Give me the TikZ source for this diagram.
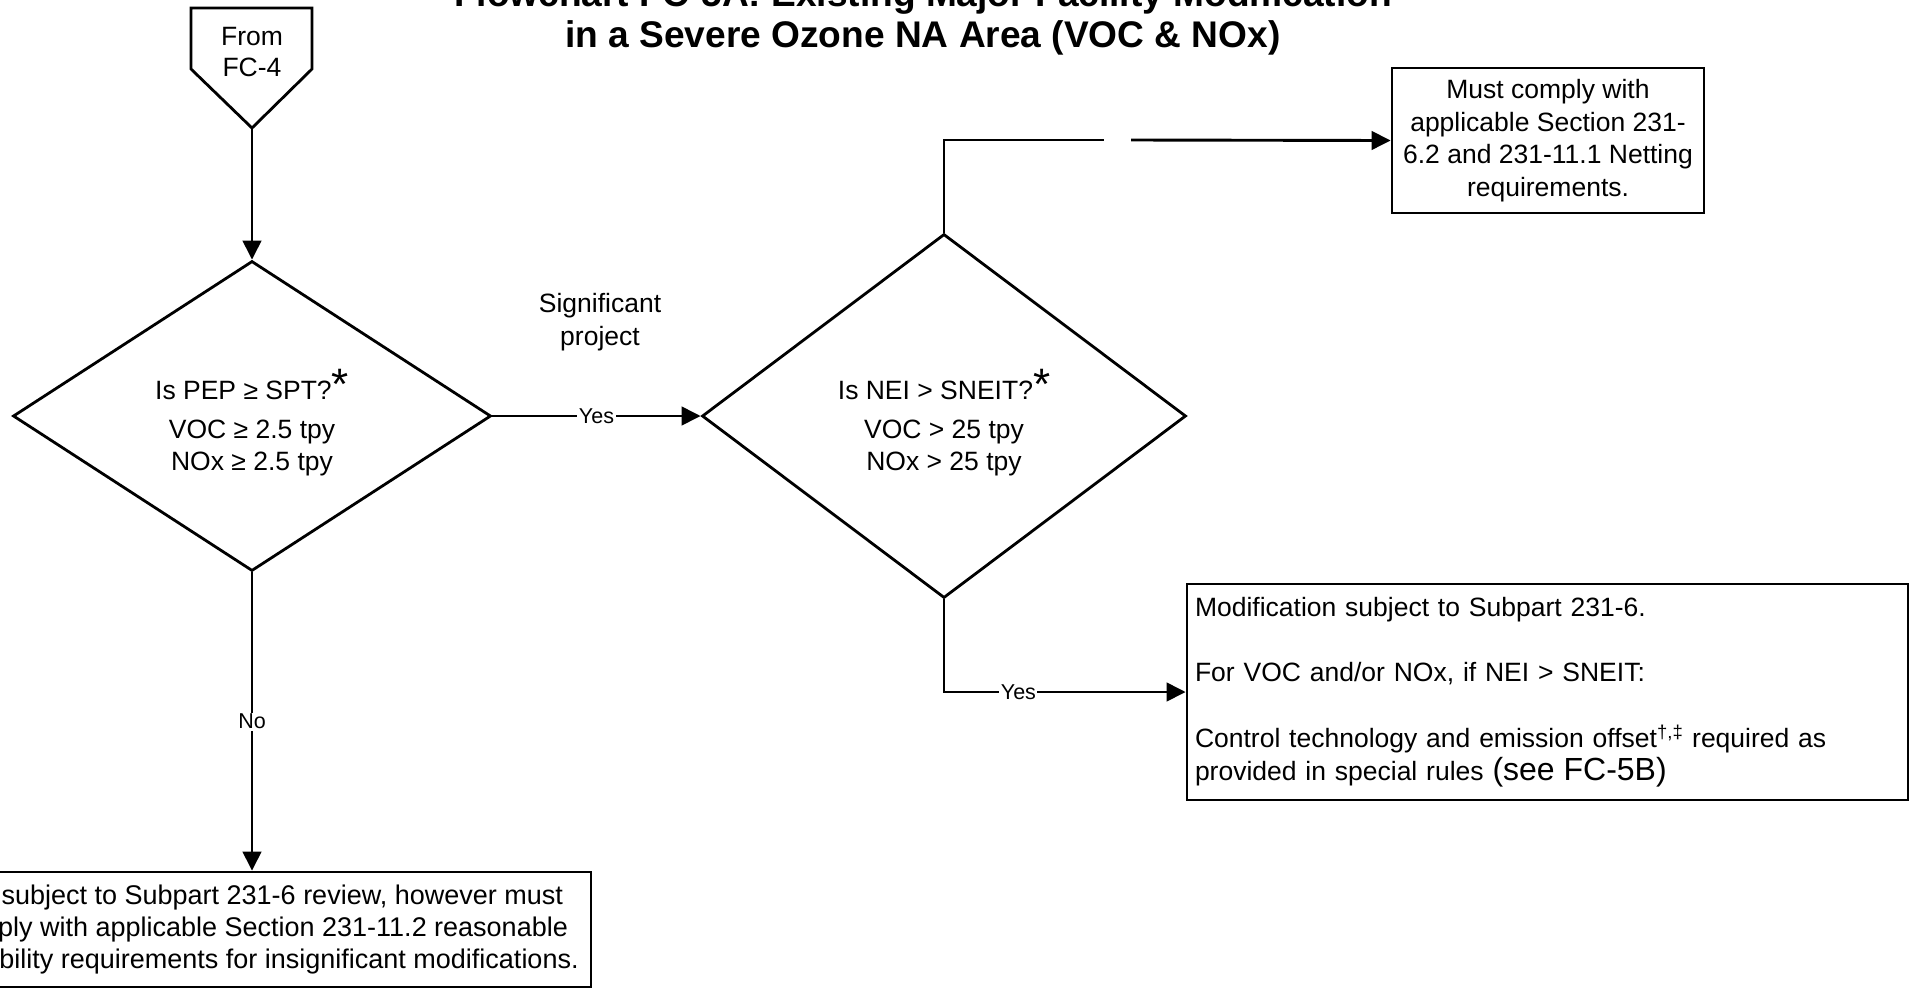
\documentclass[tikz,border=0pt]{standalone}
\usepackage{fontspec}
\setmainfont{Liberation Sans}
\usetikzlibrary{arrows.meta,shapes.geometric}
\tikzset{
  shp/.style={draw, line width=2.8pt},
  conn/.style={line width=2.9pt},
  arr/.style={conn, -{Triangle[length=19pt,width=18.5pt]}},
  lbl/.style={font=\fontsize{21.5}{23}\selectfont, fill=white, inner sep=1.5pt},
  txt/.style={font=\fontsize{26.5}{32.7}\selectfont},
  ttl/.style={font=\fontsize{37.1}{41}\selectfont\bfseries, anchor=base}
}
\begin{document}
\begin{tikzpicture}[x=1pt,y=-1pt]
\useasboundingbox (0,0) rectangle (1917,989);
\clip (0,0) rectangle (1917,989);
\fill[white] (0,0) rectangle (1917,989);

% title
\node (t1) [ttl] at (923,6) {Flowchart FC-5A: Existing Major Facility Modification};
\node (t2) [ttl] at (923,47) {in a Severe Ozone NA Area (VOC \& NOx)};

% off-page connector
\coordinate (fromtip) at (252,128);
\draw[shp, line join=miter] (191,8) -- (312,8) -- (312,69) -- (fromtip) -- (191,69) -- cycle;
\node (from) [txt, align=center, font=\fontsize{26.5}{31}\selectfont] at (252,52.5) {From\\FC-4};

% decision 1
\node (d1) [shp, diamond, minimum width=478pt, minimum height=310pt, inner sep=0pt] at (252,416) {};
\node (d1a) [txt, anchor=base] at (252,399) {Is PEP ≥ SPT?{\fontsize{44}{44}\selectfont *}};
\node (d1b) [txt, anchor=base] at (252,438) {VOC ≥ 2.5 tpy};
\node (d1c) [txt, anchor=base] at (252,470) {NOx ≥ 2.5 tpy};

% decision 2
\node (d2) [shp, diamond, minimum width=484pt, minimum height=364pt, inner sep=0pt] at (944,416) {};
\node (d2a) [txt, anchor=base] at (944,399) {Is NEI > SNEIT?{\fontsize{44}{44}\selectfont *}};
\node (d2b) [txt, anchor=base] at (944,438) {VOC > 25 tpy};
\node (d2c) [txt, anchor=base] at (944,470) {NOx > 25 tpy};

\node (sig) [txt, align=center] at (600,322) {Significant\\project};

% boxes
\node (must) [shp, txt, align=center, minimum width=312pt, minimum height=145pt, inner sep=0pt] at (1548,140.5)
  {Must comply with\\applicable Section 231-\\6.2 and 231-11.1 Netting\\requirements.};

\node (mod) [shp, txt, align=left, text width=705pt, minimum width=721pt, minimum height=216pt, inner xsep=8pt, inner ysep=0pt] at (1547.5,692)
  {Modification subject to Subpart 231-6.\\[32.7pt]
   For VOC and/or NOx, if NEI > SNEIT:\\[32.7pt]
   Control technology and emission offset\textsuperscript{†,‡} required as\\
   provided in special rules {\fontsize{32}{32.7}\selectfont (see FC-5B)}};

\node (nb) [shp, align=center, font=\fontsize{27}{32}\selectfont, minimum width=667pt, minimum height=115pt, inner sep=0pt] at (257.5,929.5)
  {Not subject to Subpart 231-6 review, however must\\comply with applicable Section 231-11.2 reasonable\\possibility requirements for insignificant modifications.};

% connectors
\draw[arr] (fromtip) -- (d1.north);
\draw[arr] (d1.east) -- node[lbl] (yes1) {Yes} (d2.west);
\draw[arr] (d1.south) -- node[lbl] (no1) {No} (d1.south |- nb.north);
\draw[arr] (d2.south) |- node[lbl, pos=0.654] (yes2) {Yes} (mod.west);
\coordinate (gapL) at (1104,140);
\coordinate (gapR) at (1131,140);
\draw[conn] (d2.north) |- (gapL);
\draw[arr] (gapR) -- (must.west);
\end{tikzpicture}
\end{document}
